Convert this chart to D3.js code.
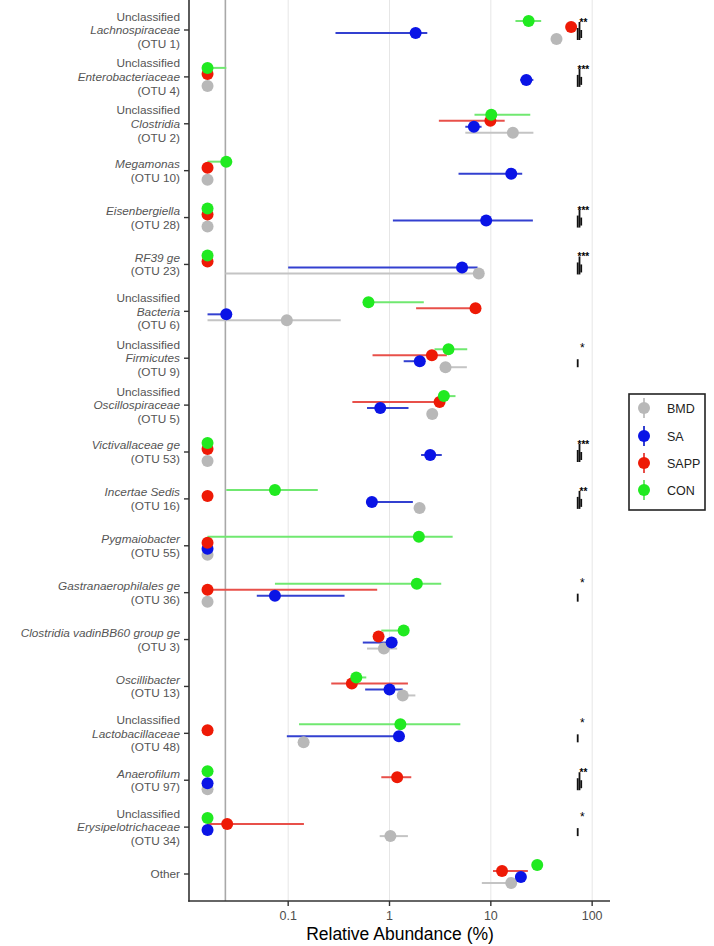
<!DOCTYPE html>
<html><head><meta charset="utf-8">
<script src="https://cdn.jsdelivr.net/npm/d3@7"></script>
<style>body{margin:0;background:#fff}svg{display:block}</style>
</head><body>
<svg id="c" width="714" height="946"></svg>
<script>
// ---- data ----
const prefixes = ["Unclassified","Unclassified","Unclassified","","","","Unclassified","Unclassified","Unclassified","","","","","","","Unclassified","","Unclassified",""];
const taxa = ["Lachnospiraceae","Enterobacteriaceae","Clostridia","Megamonas","Eisenbergiella","RF39 ge","Bacteria","Firmicutes","Oscillospiraceae","Victivallaceae ge","Incertae Sedis","Pygmaiobacter","Gastranaerophilales ge","Clostridia vadinBB60 group ge","Oscillibacter","Lactobacillaceae","Anaerofilum","Erysipelotrichaceae",""];
const otus = ["(OTU 1)","(OTU 4)","(OTU 2)","(OTU 10)","(OTU 28)","(OTU 23)","(OTU 6)","(OTU 9)","(OTU 5)","(OTU 53)","(OTU 16)","(OTU 55)","(OTU 36)","(OTU 3)","(OTU 13)","(OTU 48)","(OTU 97)","(OTU 34)","Other"];
const groups = ["BMD","SA","SAPP","CON"];
// mean, low, high per category
const BMD_mean = [44.5,0.016,16.5,0.016,0.016,7.6,0.097,3.57,2.64,0.016,1.98,0.016,0.016,0.88,1.35,0.142,0.016,1.02,15.9];
const BMD_low  = [44.5,0.016,5.6,0.016,0.016,0.024,0.016,3.57,2.5,0.016,1.9,0.016,0.016,0.6,1.35,0.142,0.016,0.8,8.15];
const BMD_high = [44.5,0.016,26.3,0.016,0.016,7.6,0.33,5.8,2.8,0.016,2.05,0.016,0.016,1.19,1.8,0.142,0.016,1.52,15.9];
const SA_mean = [1.81,22.4,6.8,15.9,9.0,5.2,0.0245,1.99,0.81,2.52,0.67,0.016,0.074,1.05,1.0,1.24,0.016,0.016,19.8];
const SA_low  = [0.293,19.5,5.6,4.8,1.08,0.1,0.016,1.38,0.6,2.05,0.67,0.016,0.049,0.545,0.575,0.097,0.016,0.016,19.8];
const SA_high = [2.36,26.3,8.1,20.4,26.0,7.4,0.0245,2.1,1.54,3.28,1.70,0.016,0.36,1.1,1.35,1.3,0.016,0.016,19.8];
const SAPP_mean = [62,0.016,9.9,0.016,0.016,0.016,7.06,2.62,3.12,0.016,0.016,0.016,0.016,0.78,0.425,0.016,1.19,0.025,12.9];
const SAPP_low  = [62,0.016,3.07,0.016,0.016,0.016,1.83,0.68,0.43,0.016,0.016,0.016,0.016,0.78,0.266,0.016,0.83,0.016,10.5];
const SAPP_high = [62,0.016,13.7,0.016,0.016,0.016,7.4,3.68,3.3,0.016,0.016,0.016,0.756,0.78,1.52,0.016,1.64,0.143,23.2];
const CON_mean = [23.6,0.016,10.1,0.0245,0.016,0.016,0.62,3.82,3.44,0.016,0.074,1.95,1.86,1.38,0.47,1.28,0.016,0.016,28.7];
const CON_low  = [17.5,0.016,6.9,0.016,0.016,0.016,0.55,2.78,3.2,0.016,0.0245,0.016,0.074,0.83,0.45,0.128,0.016,0.016,28.7];
const CON_high = [31.4,0.0245,24.5,0.028,0.016,0.016,2.18,5.85,4.48,0.016,0.196,4.2,3.24,1.45,0.59,5.0,0.016,0.016,28.7];
const sigLabels = ["**","***","","","***","***","","*","","***","**","","*","","","*","**","*",""];
const xTicks = [0.1,1,10,100];
const refLine = 0.024;

// ---- layout ----
const colors = {BMD:"#b8b8b8", SA:"#0a14e6", SAPP:"#ee1a06", CON:"#20ea20"};
const barColors = {BMD:"#c4c4c4", SA:"#3340d0", SAPP:"#e8504a", CON:"#70e870"};
const offsets = {CON:-9, SAPP:-3, SA:3, BMD:9};
const series = {BMD:[BMD_mean,BMD_low,BMD_high], SA:[SA_mean,SA_low,SA_high], SAPP:[SAPP_mean,SAPP_low,SAPP_high], CON:[CON_mean,CON_low,CON_high]};

const svg = d3.select("#c");
const x = d3.scaleLog().domain([0.0105,150]).range([189,610]);
const idx = d3.range(otus.length);
const y = d3.scalePoint().domain(idx).range([30,874]);
const panelTop = 0, panelBottom = 901;

// gridlines
svg.append("g").selectAll("line").data(xTicks).join("line")
  .attr("x1",d=>x(d)).attr("x2",d=>x(d)).attr("y1",panelTop).attr("y2",panelBottom)
  .attr("stroke","#e6e6e6").attr("stroke-width",1);
svg.append("line").attr("x1",x(refLine)).attr("x2",x(refLine)).attr("y1",panelTop).attr("y2",panelBottom)
  .attr("stroke","#a8a8a8").attr("stroke-width",1.6);

// error bars
const rows = [];
groups.forEach(g=>{
  idx.forEach(i=>rows.push({g,i,m:series[g][0][i],lo:series[g][1][i],hi:series[g][2][i]}));
});
svg.append("g").selectAll("line").data(rows.filter(r=>r.hi>r.lo)).join("line")
  .attr("x1",d=>x(d.lo)).attr("x2",d=>x(d.hi))
  .attr("y1",d=>y(d.i)+offsets[d.g]).attr("y2",d=>y(d.i)+offsets[d.g])
  .attr("stroke",d=>barColors[d.g]).attr("stroke-width",2);
// points
svg.append("g").selectAll("circle").data(rows).join("circle")
  .attr("cx",d=>x(d.m)).attr("cy",d=>y(d.i)+offsets[d.g]).attr("r",6)
  .attr("fill",d=>colors[d.g]);

// significance marks
const sg = svg.append("g");
idx.forEach(i=>{
  const s = sigLabels[i]; if(!s) return;
  const yc = y(i);
  if(s==="*"){
    sg.append("text").attr("x",x(80)).attr("y",yc-6).attr("font-size",12).attr("font-family","Liberation Sans, Arial").attr("text-anchor","middle").text("*");
    sg.append("line").attr("x1",x(72)).attr("x2",x(72)).attr("y1",yc+1).attr("y2",yc+9).attr("stroke","#111").attr("stroke-width",1.8);
  } else {
    sg.append("text").attr("x",x(82)).attr("y",yc-4).attr("font-size",10).attr("font-weight","bold").attr("font-family","Liberation Sans, Arial").attr("text-anchor","middle").text(s);
    [[72,-2,10],[75,-8,10],[78,0,8]].forEach(([v,a,b])=>{
      sg.append("line").attr("x1",x(v)).attr("x2",x(v)).attr("y1",yc+a).attr("y2",yc+b).attr("stroke","#111").attr("stroke-width",1.8);
    });
  }
});

// axes
svg.append("line").attr("x1",189).attr("x2",189).attr("y1",panelTop).attr("y2",panelBottom+0.8).attr("stroke","#333").attr("stroke-width",1.6);
svg.append("line").attr("x1",188.2).attr("x2",610).attr("y1",panelBottom).attr("y2",panelBottom).attr("stroke","#333").attr("stroke-width",1.6);
svg.append("g").selectAll("line").data(idx).join("line")
  .attr("x1",184).attr("x2",189).attr("y1",d=>y(d)).attr("y2",d=>y(d)).attr("stroke","#333").attr("stroke-width",1.4);
svg.append("g").selectAll("line").data(xTicks).join("line")
  .attr("x1",d=>x(d)).attr("x2",d=>x(d)).attr("y1",panelBottom).attr("y2",panelBottom+5).attr("stroke","#333").attr("stroke-width",1.4);
svg.append("g").selectAll("text").data(xTicks).join("text")
  .attr("x",d=>x(d)).attr("y",920).attr("text-anchor","middle")
  .attr("font-family","Liberation Sans, Arial").attr("font-size",12.5).attr("fill","#4d4d4d")
  .text(d=>String(d));
svg.append("text").attr("x",400).attr("y",940).attr("text-anchor","middle")
  .attr("font-family","Liberation Sans, Arial").attr("font-size",17.5).attr("fill","#000")
  .text("Relative Abundance (%)");

// y labels: one multi-line text element per category
const lg = svg.append("g").attr("font-family","Liberation Sans, Arial").attr("font-size",11.8).attr("fill","#555").attr("text-anchor","end");
const lineH = 13.6;
idx.forEach(i=>{
  const lines = [];
  if(prefixes[i]) lines.push({t:prefixes[i],it:false});
  if(taxa[i]) lines.push({t:taxa[i],it:true});
  lines.push({t:otus[i],it:false});
  const n = lines.length;
  const t = lg.append("text").attr("x",180).attr("y",y(i)-(n-1)/2*lineH+4.2);
  lines.forEach((l,k)=>{
    t.append("tspan").attr("x",180).attr("dy",k===0?0:lineH)
      .attr("font-style",l.it?"italic":"normal").text(l.t);
  });
});

// legend
const leg = svg.append("g");
leg.append("rect").attr("x",629).attr("y",394).attr("width",76).attr("height",116)
  .attr("fill","#fff").attr("stroke","#222").attr("stroke-width",1.6);
const legY = {BMD:408, SA:436, SAPP:463, CON:490};
groups.forEach(g=>{
  leg.append("line").attr("x1",644).attr("x2",644).attr("y1",legY[g]-10).attr("y2",legY[g]+10).attr("stroke",barColors[g]).attr("stroke-width",2);
  leg.append("circle").attr("cx",644).attr("cy",legY[g]).attr("r",6).attr("fill",colors[g]);
  leg.append("text").attr("x",667).attr("y",legY[g]+4.5).attr("font-family","Liberation Sans, Arial").attr("font-size",12.5).attr("fill","#222").text(g);
});
</script>
</body></html>
